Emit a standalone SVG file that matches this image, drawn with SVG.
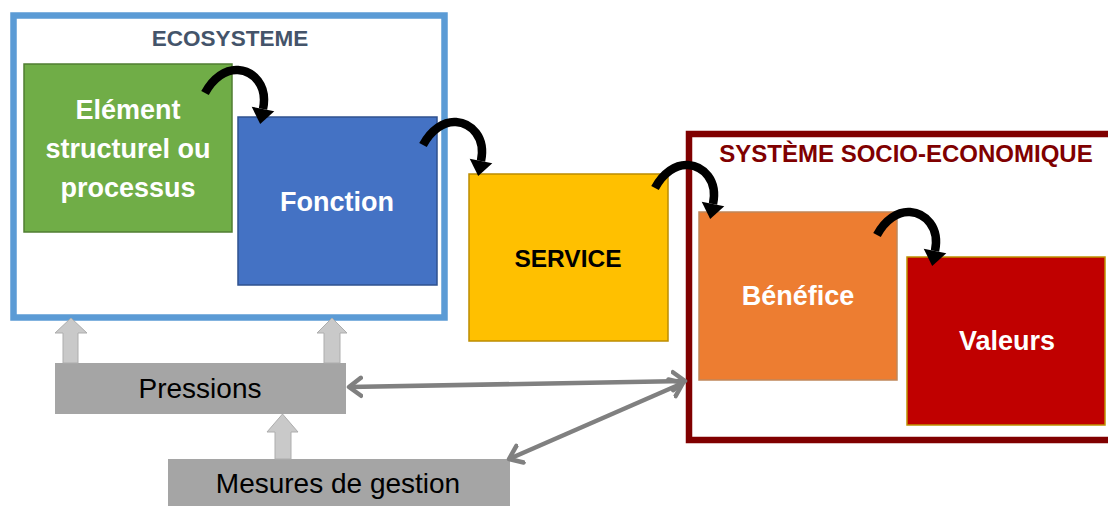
<svg xmlns="http://www.w3.org/2000/svg" xmlns:xlink="http://www.w3.org/1999/xlink" width="1108" height="506" viewBox="0 0 1108 506">
<defs>
<style>
.title{font-family:"Liberation Sans",Arial,sans-serif;font-weight:bold;text-anchor:middle}
.lbl{font-family:"Liberation Sans",Arial,sans-serif;font-weight:bold;font-size:27px;fill:#fff;text-anchor:middle}
.glbl{font-family:"Liberation Sans",Arial,sans-serif;font-size:28px;fill:#000;text-anchor:middle}
.gbox{fill:#A5A5A5}
.up{fill:#C9C9C9;stroke:#ADADAD;stroke-width:1}
.dbl{stroke:#808080;stroke-width:4.5;fill:none;marker-start:url(#chev);marker-end:url(#chev)}
</style>
<marker id="chev" markerUnits="userSpaceOnUse" viewBox="-2 -12 18 24" refX="12" refY="0" markerWidth="18" markerHeight="24" orient="auto-start-reverse">
<path d="M0 -9 L12 0 L0 9" fill="none" stroke="#808080" stroke-width="4.5" stroke-linecap="round" stroke-linejoin="round"/>
</marker>
<g id="curl">
<path d="M0 0 C8 -15 21 -24 33 -23 C48 -22 63 -8 58 16" fill="none" stroke="#000" stroke-width="8.5"/>
<polygon points="46.7,13.7 69.3,18.3 55.2,31" fill="#000"/>
</g>
</defs>
<rect width="1108" height="506" fill="#fff"/>

<g id="ecosysteme">
<rect x="13.5" y="15.5" width="431" height="302" fill="#fff" stroke="#5B9BD5" stroke-width="6.5"/>
<text class="title" x="230" y="46" font-size="22.5" fill="#44546A">ECOSYSTEME</text>
</g>

<g id="socio">
<rect x="689" y="134" width="440" height="306" fill="#fff" stroke="#800000" stroke-width="6.5"/>
<text class="title" x="906" y="162" font-size="24" fill="#800000">SYSTÈME SOCIO-ECONOMIQUE</text>
</g>

<g id="element">
<rect x="24" y="64" width="208" height="168" fill="#70AD47" stroke="#507E32" stroke-width="1.5"/>
<text class="lbl" x="128" y="119">Elément</text>
<text class="lbl" x="128" y="158">structurel ou</text>
<text class="lbl" x="128" y="197">processus</text>
</g>

<g id="fonction">
<rect x="238" y="117" width="199" height="168" fill="#4472C4" stroke="#2F528F" stroke-width="1.5"/>
<text class="lbl" x="337" y="211">Fonction</text>
</g>

<g id="service">
<rect x="469" y="174" width="199" height="167" fill="#FFC000" stroke="#BC8C00" stroke-width="1.5"/>
<text class="lbl" x="568" y="267" style="fill:#000;font-size:24.5px">SERVICE</text>
</g>

<g id="benefice">
<rect x="699" y="212" width="198" height="168" fill="#ED7D31" stroke="#C0875A" stroke-width="1.5"/>
<text class="lbl" x="798" y="305">Bénéfice</text>
</g>

<g id="valeurs">
<rect x="907" y="257" width="198" height="168" fill="#C00000" stroke="#BF9000" stroke-width="1.5"/>
<text class="lbl" x="1007" y="350">Valeurs</text>
</g>

<g id="pressions">
<rect class="gbox" x="55" y="363" width="291" height="51"/>
<text class="glbl" x="200" y="398">Pressions</text>
</g>

<g id="mesures">
<rect class="gbox" x="168" y="459" width="342" height="50"/>
<text class="glbl" x="338" y="493">Mesures de gestion</text>
</g>

<g id="connectors">
<use xlink:href="#curl" href="#curl" transform="translate(205,93)"/>
<use xlink:href="#curl" href="#curl" transform="translate(423,145)"/>
<use xlink:href="#curl" href="#curl" transform="translate(655,188)"/>
<use xlink:href="#curl" href="#curl" transform="translate(877,235)"/>
<polygon class="up" points="63,363 63,333 55,333 71,318 87,333 78,333 78,363"/>
<polygon class="up" points="324,363 324,333 317,333 332,318 347,333 340,333 340,363"/>
<polygon class="up" points="275,459 275,432 267,432 282.5,414 298,432 291,432 291,459"/>
<line class="dbl" x1="349" y1="387" x2="685" y2="381"/>
<line class="dbl" x1="509" y1="459" x2="683" y2="383"/>
</g>
</svg>
